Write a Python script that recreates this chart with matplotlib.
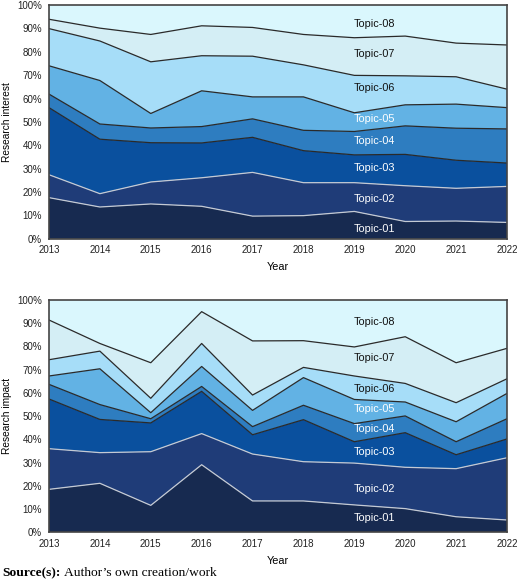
import numpy as np
import matplotlib.pyplot as plt

# ------------------------
# data (share of each topic per year, %)
# ------------------------
years = [2013, 2014, 2015, 2016, 2017, 2018, 2019, 2020, 2021, 2022]
topics = ["Topic-01", "Topic-02", "Topic-03", "Topic-04",
          "Topic-05", "Topic-06", "Topic-07", "Topic-08"]

interest_t1 = [17.6, 13.6, 14.9, 13.9, 9.7, 9.9, 11.7, 7.4, 7.6, 7.0]
interest_t2 = [9.8, 5.7, 9.4, 12.2, 18.7, 14.1, 12.3, 15.3, 14.0, 15.4]
interest_t3 = [28.7, 23.3, 16.8, 14.9, 15.0, 13.7, 11.9, 13.4, 12.0, 10.0]
interest_t4 = [5.8, 6.5, 6.3, 7.0, 7.9, 8.7, 10.0, 12.2, 13.7, 14.6]
interest_t5 = [12.1, 18.6, 6.2, 15.3, 9.4, 14.3, 8.0, 9.0, 10.3, 9.1]
interest_t6 = [15.9, 16.9, 22.1, 15.0, 17.4, 13.7, 16.0, 12.4, 11.7, 7.9]
interest_t7 = [4.0, 5.5, 11.7, 12.8, 12.3, 13.0, 16.1, 17.0, 14.4, 18.9]
interest_t8 = [6.1, 9.9, 12.6, 8.9, 9.6, 12.6, 14.0, 13.3, 16.3, 17.1]

impact_t1 = [18.5, 21.1, 11.6, 29.1, 13.5, 13.5, 11.8, 10.2, 6.7, 5.3]
impact_t2 = [17.5, 13.2, 23.1, 13.4, 20.2, 16.9, 18.0, 17.8, 20.7, 26.8]
impact_t3 = [21.4, 14.3, 12.4, 18.2, 8.3, 18.1, 9.2, 14.9, 6.0, 8.1]
impact_t4 = [6.3, 6.4, 1.8, 2.1, 3.5, 6.2, 7.8, 7.2, 5.6, 8.7]
impact_t5 = [3.6, 15.4, 2.6, 8.6, 7.0, 11.9, 10.4, 6.0, 8.6, 10.9]
impact_t6 = [7.0, 7.6, 6.2, 9.9, 6.6, 4.4, 10.1, 8.0, 8.2, 6.3]
impact_t7 = [17.1, 3.3, 15.3, 13.7, 23.3, 11.5, 12.5, 20.1, 17.2, 13.1]
impact_t8 = [8.6, 18.7, 27.0, 5.0, 17.6, 17.5, 20.2, 15.8, 27.0, 20.8]

interest = [interest_t1, interest_t2, interest_t3, interest_t4,
            interest_t5, interest_t6, interest_t7, interest_t8]
impact = [impact_t1, impact_t2, impact_t3, impact_t4,
          impact_t5, impact_t6, impact_t7, impact_t8]

# ------------------------
# styles
# ------------------------
colors = ["#172a50", "#1f3c78", "#0a509e", "#2e7dc0",
          "#62b2e4", "#a6ddf8", "#d4eef5", "#daf7fd"]
line_colors = ["#c4cad4", "#c4cad4", "#2a2a2a", "#2a2a2a",
               "#2a2a2a", "#2a2a2a", "#2a2a2a"]
text_colors = ["white"] * 5 + ["#111111"] * 3

# label positions (y, %) inside each chart
interest_label_y = [4.4, 16.9, 30.1, 41.7, 51.3, 64.4, 79.1, 92.0]
impact_label_y = [6.0, 18.7, 34.7, 44.5, 53.1, 61.7, 74.9, 90.7]
label_x = 2019.4

plt.rcParams["font.family"] = ["Liberation Sans", "DejaVu Sans"]

fig = plt.figure(figsize=(5.2, 5.81), dpi=100)
ax1 = fig.add_axes([0.0942, 0.589, 0.8808, 0.4024])
ax2 = fig.add_axes([0.0942, 0.0838, 0.8808, 0.3998])


def draw(ax, series, label_y, ylabel):
    ax.stackplot(years, series, colors=colors, linewidth=0)
    cum = np.cumsum(np.array(series), axis=0)
    for i in range(len(series) - 1):
        ax.plot(years, cum[i], color=line_colors[i], lw=0.9)
    for i, name in enumerate(topics):
        ax.text(label_x, label_y[i], name, ha="center", va="center",
                fontsize=7.8, color=text_colors[i])
    ax.set_xlim(years[0], years[-1])
    ax.set_ylim(0, 100)
    ax.set_xticks(years)
    ax.set_yticks(range(0, 101, 10))
    ax.set_yticklabels([f"{v}%" for v in range(0, 101, 10)])
    ax.tick_params(length=0, labelsize=7, colors="#222222")
    ax.tick_params(axis="y", pad=5)
    ax.tick_params(axis="x", pad=4.5)
    for s in ax.spines.values():
        s.set_color("#444444")
        s.set_linewidth(1.2)
    ax.set_xlabel("Year", fontsize=7.8)
    ax.xaxis.set_label_coords(0.5, -0.1)
    ax.set_ylabel(ylabel, fontsize=7.3)
    ax.yaxis.set_label_coords(-0.08, 0.5)


draw(ax1, interest, interest_label_y, "Research interest")
draw(ax2, impact, impact_label_y, "Research impact")

# source line: bold prefix followed by regular text
t1 = fig.text(0.004, 0.0138, "Source(s):", fontsize=9.7, va="center",
              family="Liberation Serif", fontweight="bold")
fig.canvas.draw()
bb = t1.get_window_extent()
fig.text(bb.x1 / fig.bbox.width + 0.006, 0.0138,
         "Author\u2019s own creation/work", fontsize=9.7, va="center",
         family="Liberation Serif")

fig.savefig("out.png", dpi=100)
